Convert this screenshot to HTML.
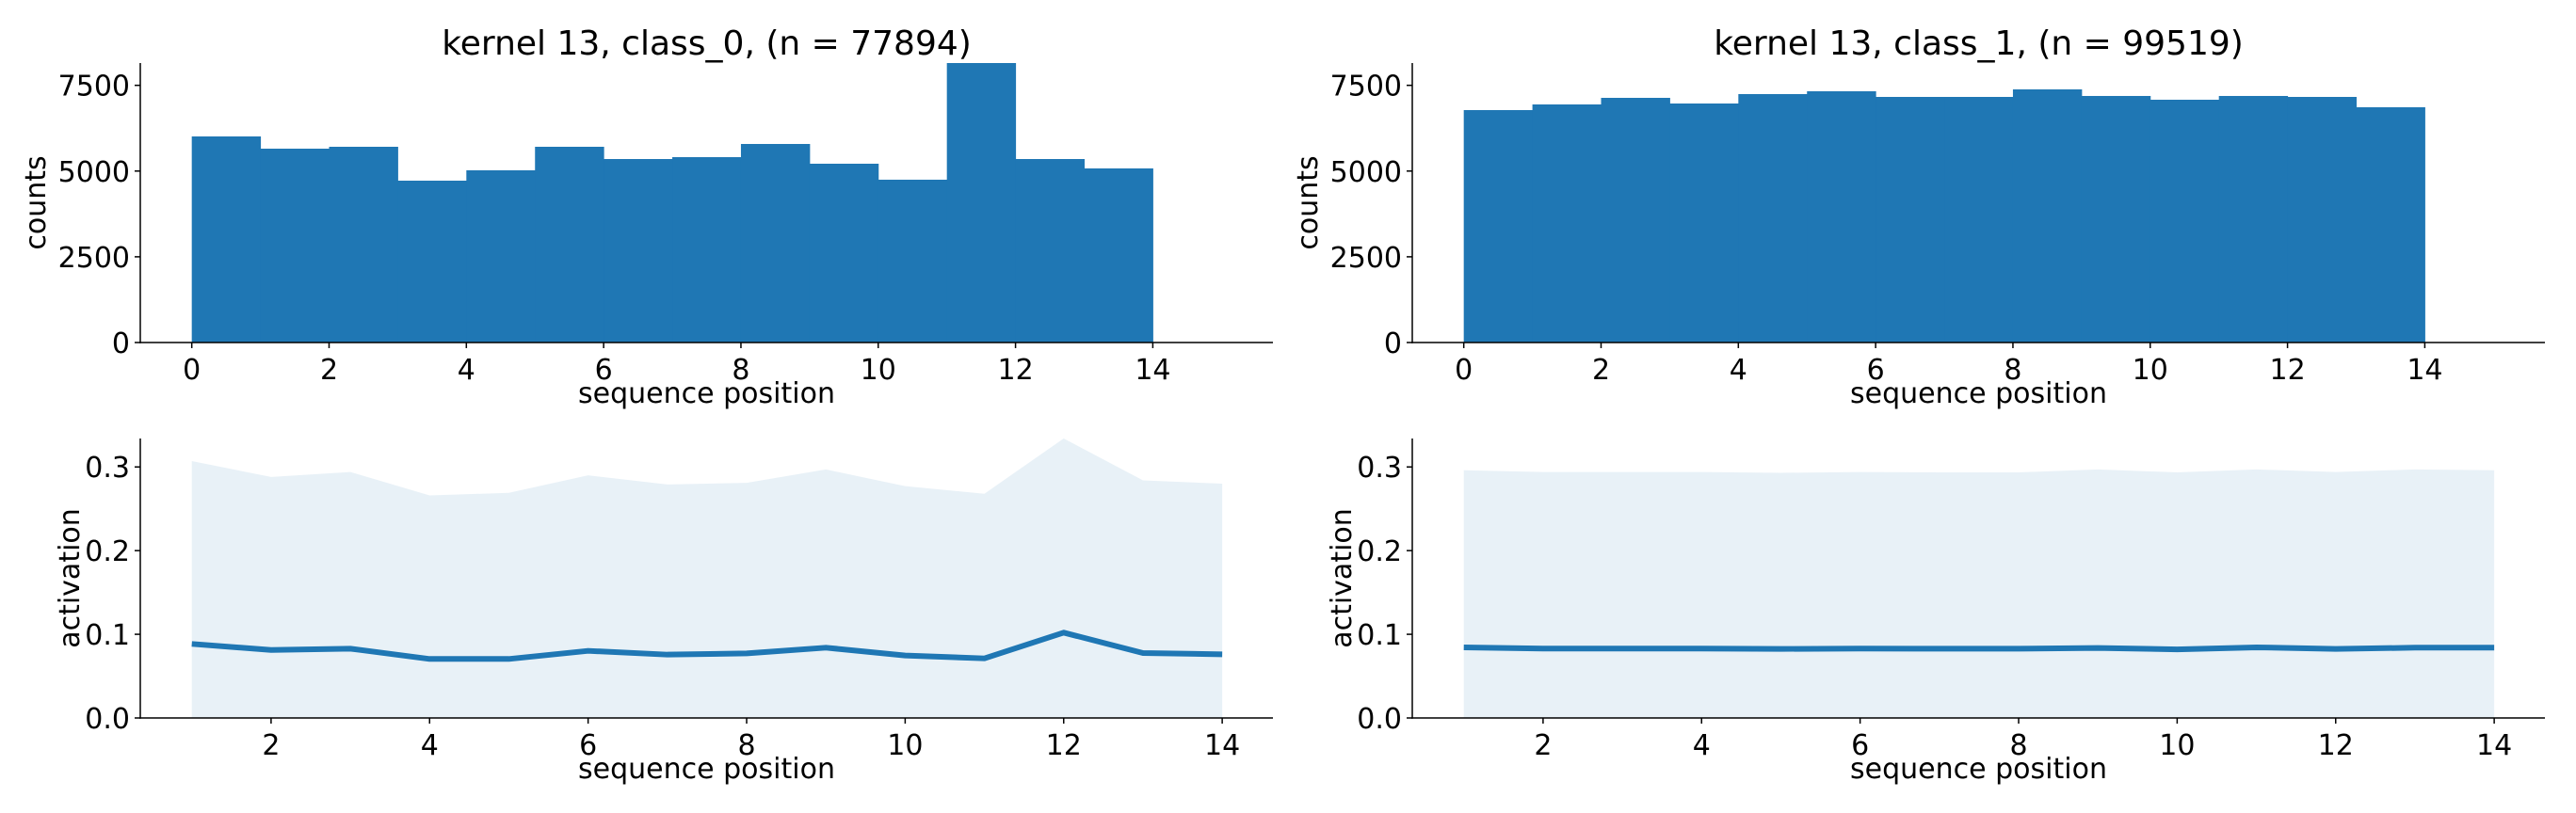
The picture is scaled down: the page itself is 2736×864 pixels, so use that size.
<!DOCTYPE html>
<html><head><meta charset="utf-8"><style>
html,body{margin:0;padding:0;background:#fff;}
svg{display:block;font-family:"DejaVu Sans","Liberation Sans",sans-serif;}
</style></head>
<body>
<svg id="fig" width="2736" height="864" viewBox="0 0 2736 864" xmlns="http://www.w3.org/2000/svg"></svg>
<script>
const histCats = [0,1,2,3,4,5,6,7,8,9,10,11,12,13];
const histClass0 = [6010,5653,5708,4720,5022,5708,5351,5406,5790,5214,4748,8150,5351,5077];
const histClass1 = [6778,6943,7135,6970,7245,7327,7162,7162,7382,7190,7080,7190,7162,6861];
const histYTicks = [0,2500,5000,7500];
const histXTicks = [0,2,4,6,8,10,12,14];
const linePos = [1,2,3,4,5,6,7,8,9,10,11,12,13,14];
const meanClass0 = [0.0885,0.0813,0.0828,0.0705,0.0705,0.0802,0.0757,0.0772,0.0840,0.0746,0.0712,0.102,0.0776,0.0761];
const upperClass0 = [0.307,0.288,0.294,0.266,0.269,0.290,0.279,0.281,0.297,0.277,0.268,0.334,0.284,0.280];
const meanClass1 = [0.0844,0.0830,0.0830,0.0830,0.0825,0.0830,0.0828,0.0828,0.0836,0.0820,0.0844,0.0825,0.0840,0.0840];
const upperClass1 = [0.296,0.294,0.294,0.294,0.293,0.294,0.2935,0.2935,0.297,0.2935,0.297,0.294,0.297,0.296];
const lineYTicks = [0.0,0.1,0.2,0.3];
const lineXTicks = [2,4,6,8,10,12,14];
const titles = ["kernel 13, class_0, (n = 77894)","kernel 13, class_1, (n = 99519)"];

const svg = document.getElementById('fig');
const NS = 'http://www.w3.org/2000/svg';
function mk(tag, attrs, parent){
  const e = document.createElementNS(NS, tag);
  for (const k in attrs) e.setAttribute(k, attrs[k]);
  (parent||svg).appendChild(e);
  return e;
}
const C0 = '#1f77b4';
const FS = 30;

function axesFrame(g, L, R, T, B){
  mk('line',{x1:L,y1:T,x2:L,y2:B+0.75,stroke:'#000','stroke-width':1.5},g);
  mk('line',{x1:L-0.75,y1:B,x2:R,y2:B,stroke:'#000','stroke-width':1.5},g);
}
function xTick(g,x,B,label){
  mk('line',{x1:x,y1:B,x2:x,y2:B+6,stroke:'#000','stroke-width':1.5},g);
  const t = mk('text',{x:x,y:B+39,'font-size':FS,'text-anchor':'middle',fill:'#000'},g);
  t.textContent = label;
}
function yTick(g,y,L,label){
  mk('line',{x1:L-6,y1:y,x2:L,y2:y,stroke:'#000','stroke-width':1.5},g);
  const t = mk('text',{x:L-11,y:y+11,'font-size':FS,'text-anchor':'end',fill:'#000'},g);
  t.textContent = label;
}

function drawHist(idx, off, vals){
  const L=149+off, R=1352+off, T=67, B=364;
  const x0=-0.75, x1=15.75, ymax=8150;
  const sx = v => L + (v-x0)/(x1-x0)*(R-L);
  const sy = v => B - v/ymax*(B-T);
  const g = mk('g',{});
  
  
  histCats.forEach((c,i)=>{
    const r = mk('rect',{x:sx(c),y:sy(vals[i]),width:sx(c+1)-sx(c)+0.5,height:B-sy(vals[i]),fill:C0},g);
    
    
  });
  axesFrame(g,L,R,T,B);
  histXTicks.forEach(v=>xTick(g,sx(v),B,String(v)));
  histYTicks.forEach(v=>yTick(g,sy(v),L,String(v)));
  const t = mk('text',{x:(L+R)/2,y:58,'font-size':36,'text-anchor':'middle',fill:'#000'},g);
  t.textContent = titles[idx];
  
  
  const xl = mk('text',{x:(L+R)/2,y:428,'font-size':FS,'text-anchor':'middle',fill:'#000'},g);
  xl.textContent = 'sequence position';
  
  
  const yx = 48+off;
  const yl = mk('text',{x:yx,y:(T+B)/2,'font-size':FS,'text-anchor':'middle',fill:'#000',transform:`rotate(-90 ${yx} ${(T+B)/2})`},g);
  yl.textContent = 'counts';
  
  
}

function drawLine(idx, off, mean, upper){
  const L=149+off, R=1352+off, T=466, B=763;
  const x0=0.35, x1=14.64, ymax=0.334;
  const sx = v => L + (v-x0)/(x1-x0)*(R-L);
  const sy = v => B - v/ymax*(B-T);
  const g = mk('g',{});
  
  
  let d = 'M'+sx(linePos[0])+','+sy(0);
  linePos.forEach((p,i)=>{ d += ' L'+sx(p)+','+sy(upper[i]); });
  d += ' L'+sx(linePos[linePos.length-1])+','+sy(0)+' Z';
  const area = mk('path',{d:d,fill:C0,'fill-opacity':0.1,stroke:'none'},g);
  
  
  const pts = linePos.map((p,i)=>sx(p)+','+sy(mean[i])).join(' ');
  const ln = mk('polyline',{points:pts,fill:'none',stroke:C0,'stroke-width':6,'stroke-linejoin':'round'},g);
  
  
  axesFrame(g,L,R,T,B);
  lineXTicks.forEach(v=>xTick(g,sx(v),B,String(v)));
  lineYTicks.forEach(v=>yTick(g,sy(v),L,v.toFixed(1)));
  const xl = mk('text',{x:(L+R)/2,y:827,'font-size':FS,'text-anchor':'middle',fill:'#000'},g);
  xl.textContent = 'sequence position';
  
  
  const yx = 84+off;
  const yl = mk('text',{x:yx,y:(T+B)/2,'font-size':FS,'text-anchor':'middle',fill:'#000',transform:`rotate(-90 ${yx} ${(T+B)/2})`},g);
  yl.textContent = 'activation';
  
  
}

drawHist(0,0,histClass0);
drawHist(1,1351,histClass1);
drawLine(0,0,meanClass0,upperClass0);
drawLine(1,1351,meanClass1,upperClass1);
</script>
</body></html>
